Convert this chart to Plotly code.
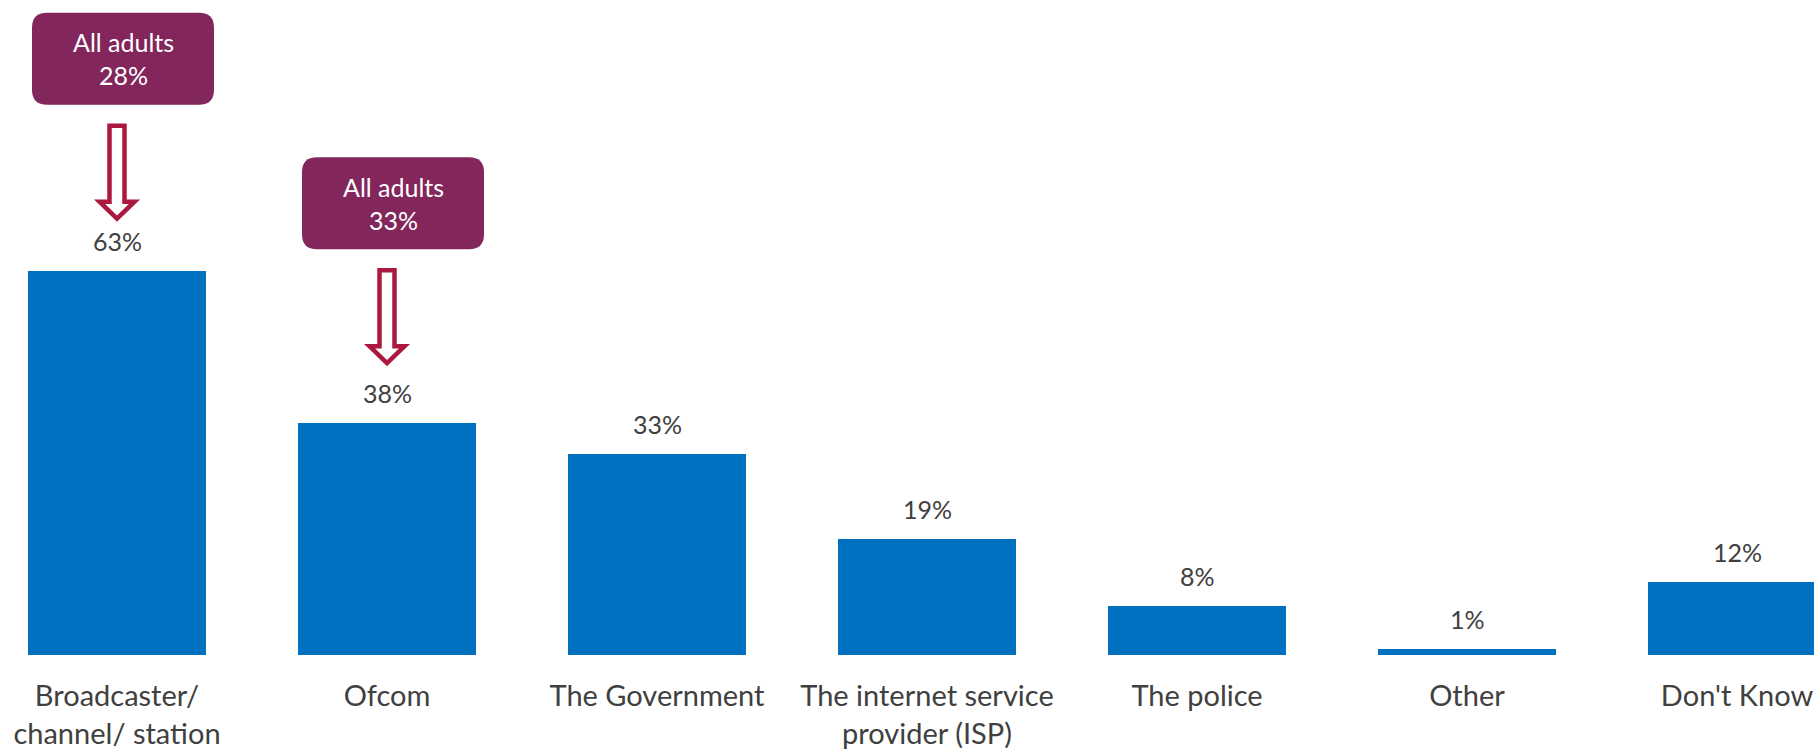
import plotly.graph_objects as go

# ---- data -------------------------------------------------------------
categories = [
    "Broadcaster/<br>channel/ station",
    "Ofcom",
    "The Government",
    "The internet service<br>provider (ISP)",
    "The police",
    "Other",
    "Don't Know",
]
values = [63, 38, 33, 19, 8, 1, 12]

# comparison call-outs: which bar they point at and the all-adults figure
callout_bars = [0, 1]
callout_values = [28, 33]

# ---- styling ----------------------------------------------------------
BAR_BLUE = "#0070C0"
TEXT_GREY = "#404040"
BOX_PURPLE = "#82265C"
ARROW_RED = "#AC1840"
FONT = "Lato"

W, H = 1814, 751
PLOT_BOTTOM = 96          # px below the baseline
PX_PER_UNIT = 6.1         # vertical scale of the value axis
SLOT_PX = 270             # horizontal distance between bar centres
FIRST_CENTRE_PX = 117
BAR_PX = 178

plot_h = H - PLOT_BOTTOM
y_max = plot_h / PX_PER_UNIT
x_lo = -FIRST_CENTRE_PX / SLOT_PX
x_hi = (W - FIRST_CENTRE_PX) / SLOT_PX

idx = list(range(len(categories)))

fig = go.Figure(
    go.Bar(
        x=idx,
        y=values,
        width=BAR_PX / SLOT_PX,
        marker=dict(color=BAR_BLUE, line=dict(width=0)),
        hoverinfo="skip",
    )
)

# value labels above each bar
for i, v in zip(idx, values):
    fig.add_annotation(
        x=i, y=v, xref="x", yref="y",
        text=f"{v}%", showarrow=False,
        yanchor="bottom", yshift=13,
        font=dict(family=FONT, size=25, color=TEXT_GREY),
    )

# call-out boxes with hollow block arrows pointing at their bars
ARROW_GAP = {0: 49, 1: 57}   # px between arrow tip and bar top
SHAFT_HALF, HEAD_HALF = 7.5, 17.5
BOX_W, BOX_H, BOX_R, BOX_DX = 182, 92, 15, 6

for b, cv in zip(callout_bars, callout_values):
    g = ARROW_GAP[b]
    tip, base, top = g + 3, g + 20, g + 96
    arrow = (
        f"M {-SHAFT_HALF},{top} L {SHAFT_HALF},{top} L {SHAFT_HALF},{base} "
        f"L {HEAD_HALF},{base} L 0,{tip} L {-HEAD_HALF},{base} "
        f"L {-SHAFT_HALF},{base} Z"
    )
    fig.add_shape(
        type="path", path=arrow,
        xref="x", yref="y", xsizemode="pixel", ysizemode="pixel",
        xanchor=b, yanchor=values[b],
        line=dict(color=ARROW_RED, width=4.5), fillcolor="white",
        layer="above",
    )

    y0 = top + 21
    y1 = y0 + BOX_H
    x0 = BOX_DX - BOX_W / 2
    x1 = BOX_DX + BOX_W / 2
    r = BOX_R
    box = (
        f"M {x0 + r},{y0} L {x1 - r},{y0} Q {x1},{y0} {x1},{y0 + r} "
        f"L {x1},{y1 - r} Q {x1},{y1} {x1 - r},{y1} "
        f"L {x0 + r},{y1} Q {x0},{y1} {x0},{y1 - r} "
        f"L {x0},{y0 + r} Q {x0},{y0} {x0 + r},{y0} Z"
    )
    fig.add_shape(
        type="path", path=box,
        xref="x", yref="y", xsizemode="pixel", ysizemode="pixel",
        xanchor=b, yanchor=values[b],
        line=dict(width=0), fillcolor=BOX_PURPLE,
        layer="above",
    )
    fig.add_annotation(
        x=b, y=values[b], xref="x", yref="y",
        text=f"All adults<br>{cv}%", showarrow=False,
        xshift=BOX_DX, yshift=(y0 + y1) / 2,
        yanchor="middle", xanchor="center",
        font=dict(family=FONT, size=25, color="white"),
    )

fig.update_layout(
    width=W, height=H,
    margin=dict(l=0, r=0, t=0, b=PLOT_BOTTOM, pad=0),
    paper_bgcolor="white", plot_bgcolor="white",
    showlegend=False,
    bargap=0,
    xaxis=dict(
        range=[x_lo, x_hi],
        tickmode="array", tickvals=idx, ticktext=categories,
        tickfont=dict(family=FONT, size=29, color=TEXT_GREY),
        ticks="", ticklabelstandoff=21, ticklabeloverflow="allow",
        showline=False, showgrid=False, zeroline=False,
        automargin=False, fixedrange=True,
    ),
    yaxis=dict(
        range=[0, y_max], visible=False,
        showgrid=False, zeroline=False, fixedrange=True,
    ),
)

fig.write_html("out.html", config={"displayModeBar": False})
